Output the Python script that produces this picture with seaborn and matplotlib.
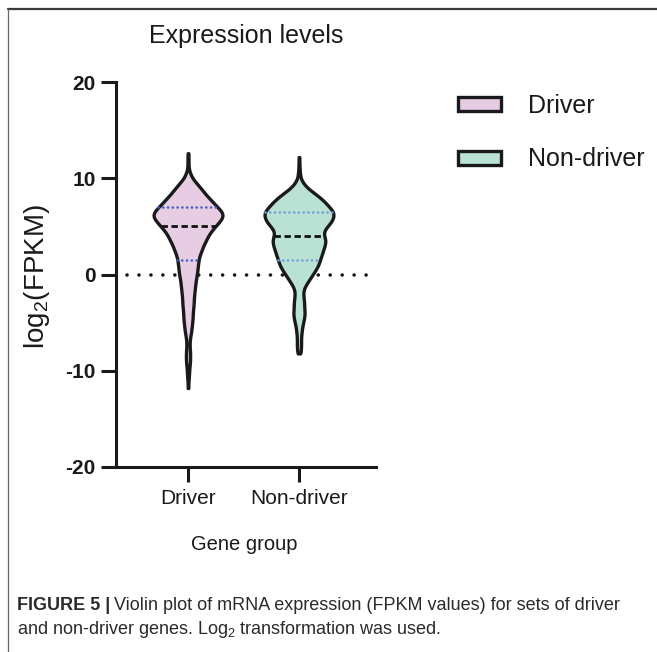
import numpy as np
import pandas as pd
import matplotlib
matplotlib.use("Agg")
import matplotlib.pyplot as plt
import seaborn as sns
from matplotlib.patches import Patch
from matplotlib.lines import Line2D

# ---------------- data ----------------
groups = ["Driver", "Non-driver"]

driver_levels = [-11.8, -11, -10.5, -10, -9.5, -9, -8.5, -8, -7.5, -7, -6.5, -6,
                 -5.5, -5, -4.5, -4, -3.5, -3, -2.5, -2, -1.5, -1, -0.5, 0,
                 0.5, 1, 1.5, 2, 2.5, 3, 3.5, 4, 4.5, 5, 5.5, 6,
                 6.5, 7, 7.5, 8, 8.5, 9, 9.5, 10, 10.5, 11, 11.5, 12, 12.6]
driver_counts = [1, 1, 2, 2, 3, 4, 4, 4, 3, 3, 4, 6,
                 7, 8, 9, 9, 10, 11, 11, 12, 13, 14, 15, 17,
                 18, 19, 20, 22, 26, 29, 34, 38, 44, 52, 60, 68,
                 66, 56, 48, 39, 31, 24, 16, 8, 4, 1, 1, 1, 1]

nondriver_levels = [-8.2, -8, -7.5, -7, -6.5, -6, -5.5, -5, -4.5, -4, -3.5, -3,
                    -2.5, -2, -1.5, -1, -0.5, 0, 0.5, 1, 1.5, 2, 2.5, 3,
                    3.5, 4, 4.5, 5, 5.5, 6, 6.5, 7, 7.5, 8, 8.5, 9,
                    9.5, 10, 10.5, 11, 11.5, 12.2]
nondriver_counts = [1, 3, 4, 4, 4, 5, 6, 8, 10, 11, 10, 10,
                    9, 8, 9, 14, 20, 26, 32, 37, 40, 43, 46, 49,
                    51, 48, 47, 54, 62, 66, 66, 58, 50, 40, 28, 16,
                    8, 3, 2, 1, 1, 1]

y_ticks = [-20, -10, 0, 10, 20]
fill_colors = ["#e6cde3", "#b9e2d5"]
quartile_colors = ["#3f5fc8", "#6f9de0"]
ink = "#1a1a1a"

values = np.concatenate([np.repeat(driver_levels, driver_counts),
                         np.repeat(nondriver_levels, nondriver_counts)])
labels = [groups[0]] * int(np.sum(driver_counts)) + [groups[1]] * int(np.sum(nondriver_counts))
df = pd.DataFrame({"group": labels, "value": values})

# ---------------- style ----------------
sns.set_theme(style="ticks")
plt.rcParams["font.family"] = ["Liberation Sans", "DejaVu Sans"]
plt.rcParams["text.color"] = "#1a1a1a"

W, H = 657, 652
fig = plt.figure(figsize=(W / 100, H / 100), dpi=100)
ax = fig.add_axes([116 / W, 1 - 467 / H, 260 / W, 385 / H])

sns.violinplot(data=df, x="group", y="value", hue="group", order=groups,
               hue_order=groups, palette=fill_colors, legend=False,
               inner="quart", cut=0, bw_adjust=0.35, density_norm="width",
               width=0.62, linewidth=2.4, linecolor=ink, gridsize=400,
               saturation=1, ax=ax)

for coll in ax.collections:
    coll.set_zorder(2)

# restyle the quartile lines: median black dashed, quartiles blue dotted
qlines = [l for l in ax.lines
          if len(l.get_ydata()) == 2 and l.get_ydata()[0] == l.get_ydata()[1]]
by_violin = {}
for l in qlines:
    key = int(round(float(np.mean(l.get_xdata()))))
    by_violin.setdefault(key, []).append(l)
for key, ls in by_violin.items():
    ls.sort(key=lambda l: l.get_ydata()[0])
    for i, l in enumerate(ls):
        l.set_zorder(3)
        if i == 1:
            l.set_color("#111111")
            l.set_linewidth(2.0)
            l.set_linestyle((0, (2.3, 1.3)))
            l.set_dash_capstyle("butt")
        else:
            l.set_color(quartile_colors[key])
            l.set_linewidth(1.9)
            l.set_linestyle((0, (0.01, 1.8)))
            l.set_dash_capstyle("round")

ax.axhline(0, xmin=0.042, xmax=0.977, color=ink, lw=2.6,
           linestyle=(0, (0.01, 3.3)), dash_capstyle="round", zorder=0.5)

ax.set_ylim(-20, 20)
ax.set_xlim(-0.649, 1.694)
ax.set_yticks(y_ticks)
ax.set_yticklabels([str(t) for t in y_ticks], fontweight="bold", fontsize=15)
ax.tick_params(axis="y", length=11, width=2.2, color=ink, pad=3.5, labelcolor=ink)
ax.tick_params(axis="x", length=11, width=2.2, color=ink, pad=5, labelsize=15, labelcolor=ink)
for s in ["top", "right"]:
    ax.spines[s].set_visible(False)
for s in ["left", "bottom"]:
    ax.spines[s].set_linewidth(2.2)
    ax.spines[s].set_color(ink)
ax.set_xlabel("")
ax.set_ylabel("")

fig.text(246 / W, 1 - 36 / H, "Expression levels", fontsize=18, ha="center", va="center")
fig.text(37 / W, 1 - 277 / H, r"log$_{\mathregular{2}}$(FPKM)", fontsize=20,
         rotation=90, ha="center", va="center")
fig.text(244 / W, 1 - 545 / H, "Gene group", fontsize=14.5, ha="center", va="center")

handles = [Patch(facecolor=c, edgecolor=ink, linewidth=2.4, label=g)
           for c, g in zip(fill_colors, groups)]
fig.legend(handles=handles, loc="upper left", bbox_to_anchor=(458 / W, 1 - 94 / H),
           frameon=False, fontsize=18, handlelength=1.7, handleheight=0.5,
           handletextpad=1.1, labelspacing=1.18, borderpad=0, borderaxespad=0)

# caption
cap_color = "#2a2a2a"
t1 = fig.text(17 / W, 1 - 605 / H, "FIGURE 5 |", fontsize=13, fontweight="bold",
              va="center", color=cap_color)
fig.canvas.draw()
bb = t1.get_window_extent(renderer=fig.canvas.get_renderer())
fig.text((bb.x1 + 4) / W, 1 - 605 / H,
         "Violin plot of mRNA expression (FPKM values) for sets of driver",
         fontsize=13, va="center", color=cap_color)
fig.text(17 / W, 1 - 630 / H,
         r"and non-driver genes. Log$_{\mathregular{2}}$ transformation was used.",
         fontsize=13, va="center", color=cap_color)

# figure frame lines
fig.add_artist(Line2D([8 / W, 1], [1 - 9 / H, 1 - 9 / H], transform=fig.transFigure,
                      color="#3a3a3a", lw=1.6))
fig.add_artist(Line2D([8 / W, 8 / W], [0, 1 - 9 / H], transform=fig.transFigure,
                      color="#666666", lw=0.9))

fig.savefig("out.png", dpi=100)
